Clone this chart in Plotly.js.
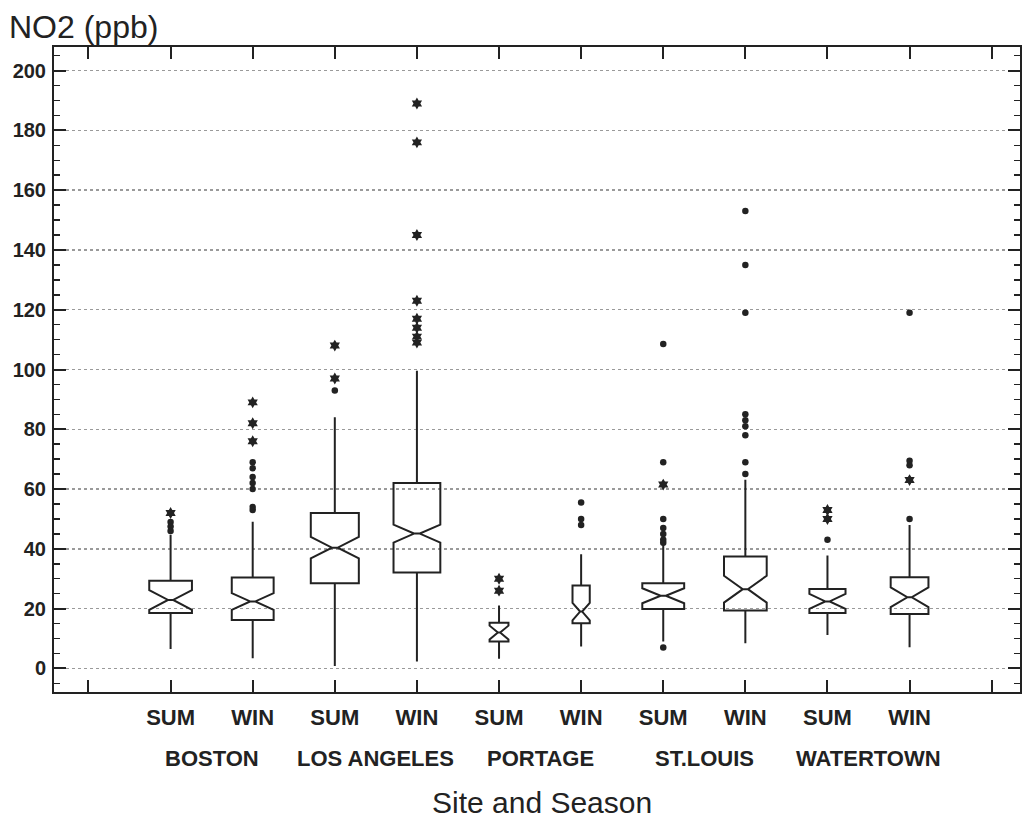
<!DOCTYPE html>
<html>
<head>
<meta charset="utf-8">
<script src="https://cdn.plot.ly/plotly-3.0.1.min.js"></script>
<style>
  html, body { margin: 0; padding: 0; background: #fff; }
  #chart { width: 1025px; height: 821px; }
</style>
</head>
<body>
<div id="chart"></div>
<script>
// ---- data ----
const seasons = ['SUM', 'WIN', 'SUM', 'WIN', 'SUM', 'WIN', 'SUM', 'WIN', 'SUM', 'WIN'];
const sites = ['BOSTON', 'LOS ANGELES', 'PORTAGE', 'ST.LOUIS', 'WATERTOWN'];
const positions = [1, 2, 3, 4, 5, 6, 7, 8, 9, 10];

const q1         = [18.5, 16.2, 28.5, 32.1,  9.0, 15.1, 19.9, 19.4, 18.5, 18.2];
const median     = [22.9, 22.4, 40.4, 45.1, 12.0, 19.0, 24.3, 26.5, 22.4, 23.8];
const q3         = [29.3, 30.4, 52.0, 62.0, 15.3, 27.7, 28.5, 37.4, 26.6, 30.5];
const lowerWhisk = [ 6.5,  3.4,  0.8,  2.3,  3.2,  7.3,  9.0,  8.4, 11.2,  7.1];
const upperWhisk = [44.7, 49.1, 84.0, 99.6, 21.0, 38.2, 41.9, 63.1, 37.8, 48.0];
const notchHalf  = [ 3.3,  2.8,  3.6,  3.0,  2.3,  2.9,  2.5,  4.5,  2.5,  3.3];

// outside values drawn as stars, far outside values drawn as dots
const starOutliers = [
  [52],
  [89, 82, 76],
  [108, 97],
  [189, 176, 145, 123, 117, 114, 111, 109],
  [30, 26],
  [],
  [61.5],
  [],
  [53, 50],
  [63]
];
const dotOutliers = [
  [49, 47.5, 46],
  [69, 67, 64, 62, 60, 54, 53],
  [93],
  [],
  [],
  [55.5, 50, 48],
  [108.5, 69, 50, 47, 45, 43, 42, 7],
  [153, 135, 119, 85, 83, 81, 78, 69, 65],
  [43],
  [119, 69.5, 68, 50]
];

// ---- styling (box widths vary with sample size in the reference) ----
const boxWidth = [0.52, 0.51, 0.585, 0.57, 0.23, 0.21, 0.51, 0.52, 0.44, 0.46];
const ink = '#222222';
const FONT = 'Liberation Sans, Arial, Helvetica, sans-serif';

const traces = [];
positions.forEach(function (p, i) {
  traces.push({
    type: 'box',
    x: [p],
    q1: [q1[i]],
    median: [median[i]],
    q3: [q3[i]],
    lowerfence: [lowerWhisk[i]],
    upperfence: [upperWhisk[i]],
    notchspan: [notchHalf[i]],
    notched: true,
    notchwidth: 0.44,
    width: boxWidth[i],
    whiskerwidth: 0,
    boxpoints: false,
    line: { color: ink, width: 2 },
    fillcolor: 'rgba(0,0,0,0)',
    showlegend: false,
    hoverinfo: 'y'
  });
});

const starX = [], starY = [], dotX = [], dotY = [];
positions.forEach(function (p, i) {
  starOutliers[i].forEach(function (v) { starX.push(p); starY.push(v); });
  dotOutliers[i].forEach(function (v) { dotX.push(p); dotY.push(v); });
});
traces.push({
  type: 'scatter', mode: 'markers', x: starX, y: starY, showlegend: false,
  marker: { symbol: 'hexagram', size: 9, color: ink, line: { width: 0 } }
});
traces.push({
  type: 'scatter', mode: 'markers', x: dotX, y: dotY, showlegend: false,
  marker: { symbol: 'circle', size: 6.5, color: ink, line: { width: 0 } }
});

const tickVals = [0].concat(positions, [11]);
const tickText = [''].concat(seasons, ['']);

const annotations = sites.map(function (s, k) {
  return {
    text: s, xref: 'x', yref: 'paper', x: 2 * k + 1.5, y: 0,
    xanchor: 'center', yanchor: 'top', yshift: -52, showarrow: false,
    font: { family: FONT, size: 22, color: ink, weight: 'bold' }
  };
});
annotations.push({
  text: 'Site and Season', xref: 'paper', yref: 'paper', x: 0.505, y: 0,
  xanchor: 'center', yanchor: 'top', yshift: -92, showarrow: false,
  font: { family: FONT, size: 30, color: ink }
});
annotations.push({
  text: 'NO2 (ppb)', xref: 'paper', yref: 'paper', x: 0, y: 1,
  xanchor: 'left', yanchor: 'bottom', xshift: -47, yshift: 0, showarrow: false,
  font: { family: FONT, size: 32, color: ink }
});

const layout = {
  width: 1025, height: 821,
  margin: { l: 54, r: 5, t: 47, b: 129 },
  paper_bgcolor: '#ffffff', plot_bgcolor: '#ffffff',
  font: { family: FONT, color: ink },
  boxmode: 'overlay',
  showlegend: false,
  xaxis: {
    range: [-0.42, 11.345],
    tickmode: 'array', tickvals: tickVals, ticktext: tickText,
    ticks: 'inside', ticklen: 12, tickwidth: 2, tickcolor: ink,
    ticklabelstandoff: 5,
    tickfont: { family: FONT, size: 22, color: ink, weight: 'bold' },
    showline: true, linewidth: 2, linecolor: ink, mirror: 'allticks',
    showgrid: false, zeroline: false
  },
  yaxis: {
    range: [-7.9, 207.9],
    tickmode: 'linear', tick0: 0, dtick: 20,
    ticks: 'inside', ticklen: 12, tickwidth: 2, tickcolor: ink,
    minor: { dtick: 5, tick0: 0, ticks: 'inside', ticklen: 6, tickwidth: 1.5, tickcolor: ink, showgrid: false },
    tickfont: { family: FONT, size: 20, color: ink, weight: 'bold' },
    ticklabelstandoff: 2,
    showline: true, linewidth: 2, linecolor: ink, mirror: 'allticks',
    showgrid: true, gridcolor: '#9a9a9a', gridwidth: 1.5, griddash: 'dot',
    zeroline: false
  },
  annotations: annotations
};

Plotly.newPlot('chart', traces, layout, { displayModeBar: false, staticPlot: true });
</script>
</body>
</html>
